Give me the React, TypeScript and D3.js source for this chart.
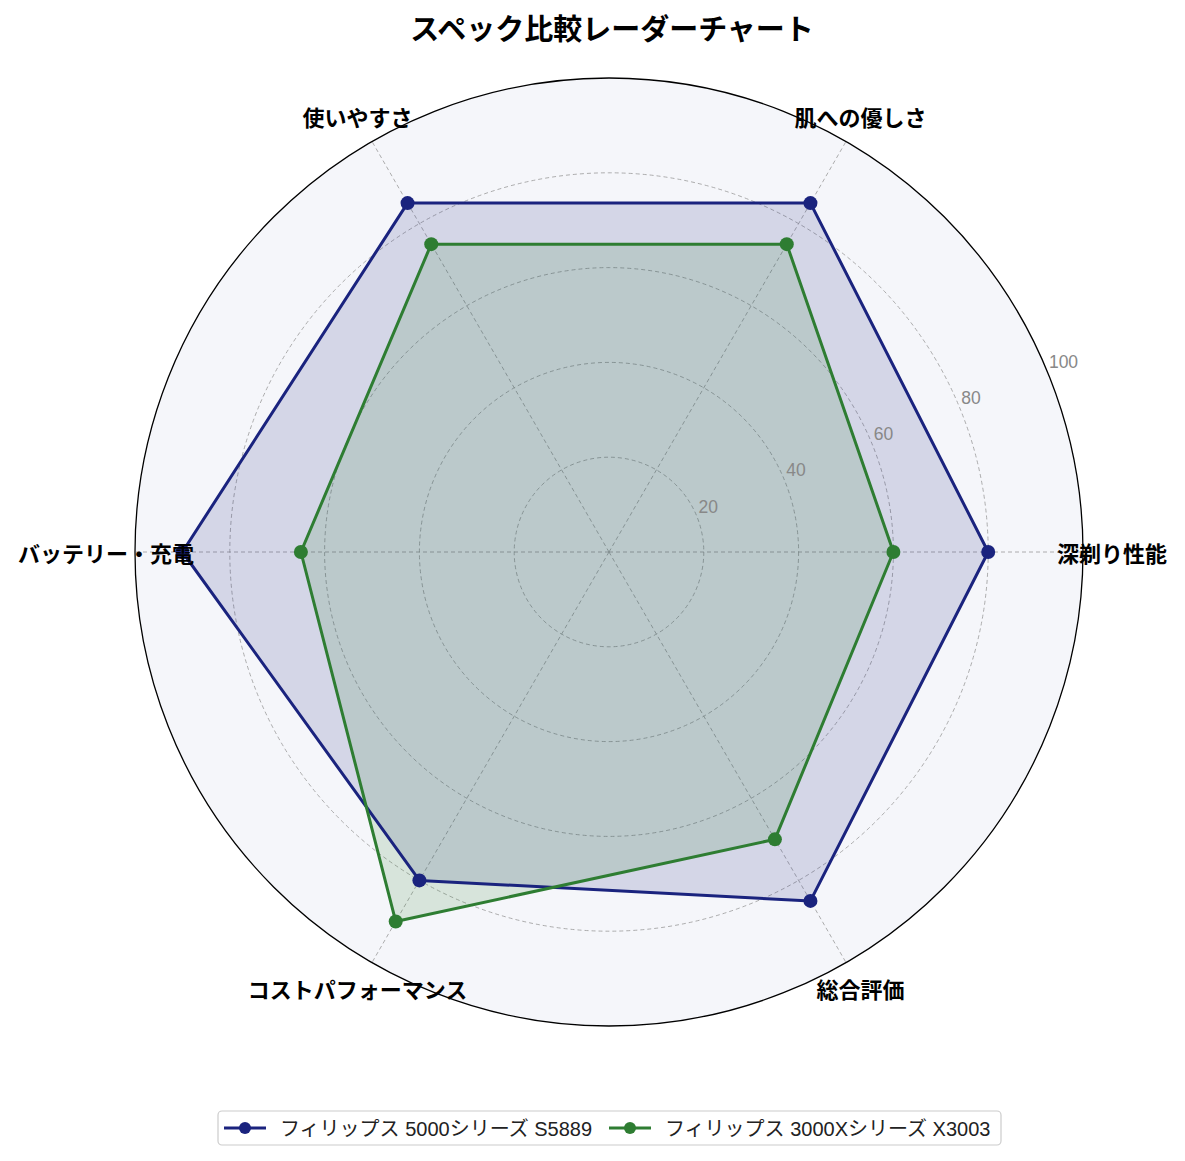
import React from "react";
import * as d3 from "d3";

const categories = ["深剃り性能", "肌への優しさ", "使いやすさ", "バッテリー・充電", "コストパフォーマンス", "総合評価"];
const seriesNames = ["フィリップス 5000シリーズ S5889", "フィリップス 3000Xシリーズ X3003"];
const series1 = [80, 85, 85, 90, 80, 85];
const series2 = [60, 75, 75, 65, 90, 70];
const seriesColors = ["#1a237e", "#2e7d32"];
const rTicks = [20, 40, 60, 80, 100];
const title = "スペック比較レーダーチャート";

const W = 1185;
const H = 1161;
const cx = 609;
const cy = 552;
const R = 474;
const FONT = "'Noto Sans CJK JP', 'Noto Sans', sans-serif";
const LFONT = "'Liberation Sans', 'Noto Sans CJK JP', sans-serif";

export default function App() {
  const r = d3.scaleLinear().domain([0, 100]).range([0, R]);
  const angle = d3
    .scaleLinear()
    .domain([0, categories.length])
    .range([0, 2 * Math.PI]);
  const pt = (i: number, v: number): [number, number] => {
    const a = angle(i);
    return [cx + r(v) * Math.cos(a), cy - r(v) * Math.sin(a)];
  };
  const line = d3
    .line<[number, number]>()
    .x((d) => d[0])
    .y((d) => d[1])
    .curve(d3.curveLinearClosed);
  const allSeries = [series1, series2];
  const labelR = 503;
  const rlabelAngle = (22.5 * Math.PI) / 180;

  return (
    <svg
      width={W}
      height={H}
      style={{ position: "absolute", left: 0, top: 0, display: "block", background: "#fff" }}
      fontFamily={FONT}
    >
      <circle cx={cx} cy={cy} r={R} fill="#f5f6fa" />
      {rTicks.slice(0, -1).map((t) => (
        <circle key={t} cx={cx} cy={cy} r={r(t)} fill="none" stroke="#999" strokeWidth={0.8} strokeDasharray="4,3" />
      ))}
      {categories.map((c, i) => {
        const [x, y] = pt(i, 100);
        return <line key={c} x1={cx} y1={cy} x2={x} y2={y} stroke="#999" strokeWidth={0.8} strokeDasharray="4,3" />;
      })}
      {allSeries.map((s, si) => (
        <path key={si} d={line(s.map((v, i) => pt(i, v))) || ""} fill={seriesColors[si]} fillOpacity={0.15} stroke="none" />
      ))}
      {allSeries.map((s, si) => (
        <g key={"l" + si}>
          <path
            d={line(s.map((v, i) => pt(i, v))) || ""}
            fill="none"
            stroke={seriesColors[si]}
            strokeWidth={3}
            strokeLinejoin="round"
          />
          {s.map((v, i) => {
            const [x, y] = pt(i, v);
            return <circle key={i} cx={x} cy={y} r={7} fill={seriesColors[si]} />;
          })}
        </g>
      ))}
      <circle cx={cx} cy={cy} r={R} fill="none" stroke="#000" strokeWidth={1.3} />
      {rTicks.map((t) => {
        const x = cx + r(t) * Math.cos(rlabelAngle);
        const y = cy - r(t) * Math.sin(rlabelAngle);
        return (
          <text key={t} x={x + 2} y={y - 3} fontSize={17.5} fill="#888" textAnchor="start" fontFamily={LFONT}>
            {t}
          </text>
        );
      })}
      {categories.map((c, i) => {
        const a = angle(i);
        const x = cx + labelR * Math.cos(a);
        const y = cy - labelR * Math.sin(a);
        return (
          <text key={c} x={x} y={y} fontSize={22} fontWeight="bold" textAnchor="middle" dominantBaseline="central" fill="#000">
            {c}
          </text>
        );
      })}
      <text x={612} y={27} fontSize={29} fontWeight="bold" textAnchor="middle" dominantBaseline="central">
        {title}
      </text>
      <g>
        <rect x={218} y={1111} width={783} height={34} rx={4} fill="#fff" stroke="#ccc" strokeWidth={1.2} />
        {[
          { lx: 224, tx: 280 },
          { lx: 609, tx: 665 },
        ].map((p, si) => (
          <g key={si}>
            <line x1={p.lx} x2={p.lx + 42} y1={1128} y2={1128} stroke={seriesColors[si]} strokeWidth={3} />
            <circle cx={p.lx + 21} cy={1128} r={6} fill={seriesColors[si]} />
            <text x={p.tx} y={1129} fontSize={20} dominantBaseline="central" fill="#222" fontFamily={LFONT}>
              {seriesNames[si]}
            </text>
          </g>
        ))}
      </g>
    </svg>
  );
}
